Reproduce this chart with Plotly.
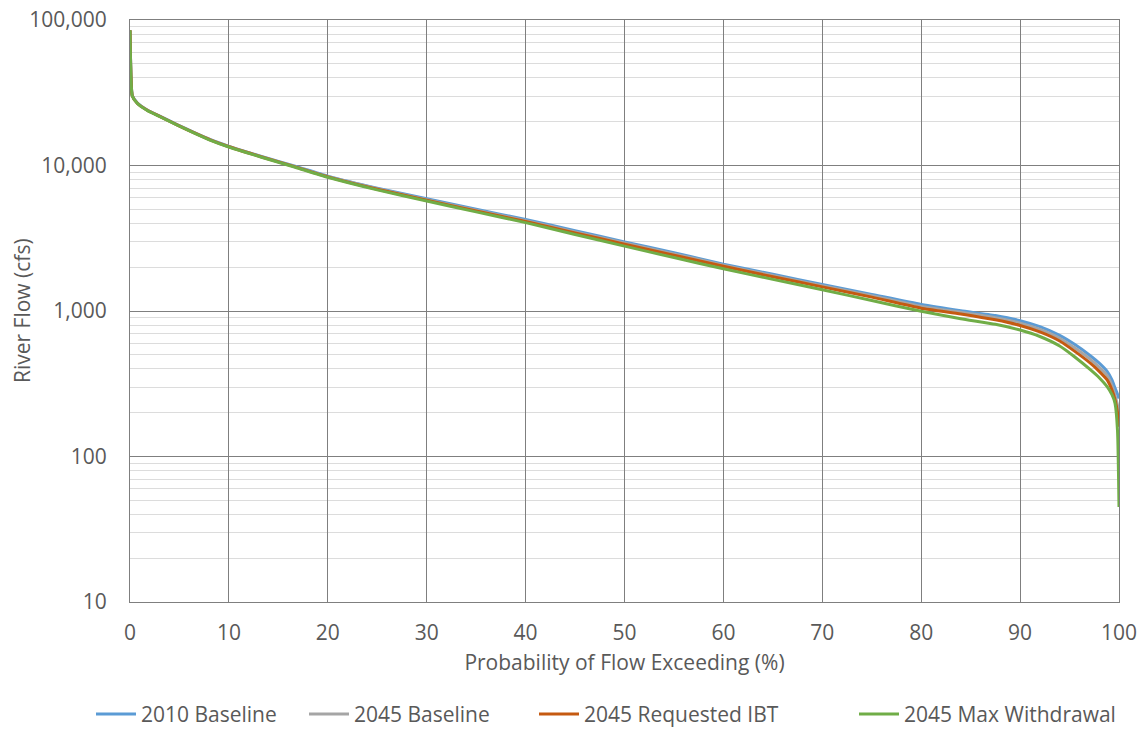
import plotly.graph_objects as go

# Exceedance probability (%)
prob = [0, 0.1, 0.23, 0.75, 1.74, 3.1, 4.8, 6.5, 8.15, 10, 13.3, 16.7, 20, 25, 30, 35, 40, 45, 50,
        55, 60, 65, 70, 75, 80, 84, 87.5, 90, 92, 94, 95.5, 97.1, 98, 98.8, 99.3, 99.6, 99.85, 100]

flow_2010_baseline = [85000, 40500, 30300, 26900, 24100, 21700, 19050, 16850, 15050, 13550,
                      11550, 9880, 8450, 6980, 5900, 5000, 4250, 3570, 2980, 2520, 2100, 1790,
                      1520, 1300, 1110, 1005, 930, 858, 780, 680, 590, 493, 438, 384, 335, 295, 268, 250]
flow_2045_baseline = [85000, 40300, 30200, 26800, 24050, 21650, 19000, 16800, 15000, 13500,
                      11500, 9830, 8400, 6920, 5830, 4930, 4180, 3500, 2930, 2470, 2065, 1755,
                      1490, 1275, 1075, 980, 900, 826, 748, 650, 558, 465, 410, 360, 305, 262, 225, 190]
flow_2045_requested_ibt = [85000, 40200, 30100, 26700, 24000, 21600, 18950, 16750, 14950, 13450,
                           11450, 9780, 8350, 6860, 5770, 4870, 4120, 3440, 2880, 2420, 2030, 1720,
                           1465, 1245, 1045, 955, 870, 795, 718, 622, 530, 438, 385, 336, 285, 245, 200, 160]
flow_2045_max_withdrawal = [85000, 40000, 30000, 26650, 23900, 21550, 18900, 16700, 14900, 13400,
                            11400, 9730, 8300, 6800, 5700, 4800, 4050, 3360, 2790, 2330, 1950, 1650,
                            1400, 1180, 995, 885, 810, 740, 668, 575, 485, 395, 348, 302, 265, 232, 150, 45]

series_names = ["2010 Baseline", "2045 Baseline", "2045 Requested IBT", "2045 Max Withdrawal"]
series_values = [flow_2010_baseline, flow_2045_baseline, flow_2045_requested_ibt, flow_2045_max_withdrawal]
series_colors = ["#5B9BD5", "#A5A5A5", "#C55A11", "#70AD47"]

x_ticks = [0, 10, 20, 30, 40, 50, 60, 70, 80, 90, 100]
y_ticks = [10, 100, 1000, 10000, 100000]
y_tick_text = ["10", "100", "1,000", "10,000", "100,000"]
y_minor = [m * 10 ** k for k in range(1, 5) for m in range(2, 10)]

FONT = "Open Sans"
TXT = "#595959"
GRID = "#7f7f7f"

W, H = 1142, 729
L, R, T, B = 130, 23, 20, 127
plot_w = W - L - R

# legend entry left positions (pixels from the left edge of the figure)
legend_left_px = [91, 304, 534, 854]

fig = go.Figure()
legend_ids = ["legend", "legend2", "legend3", "legend4"]
for name, vals, col, lid in zip(series_names, series_values, series_colors, legend_ids):
    fig.add_trace(go.Scatter(x=prob, y=vals, mode="lines", name=name, legend=lid,
                             line=dict(color=col, width=3, shape="spline", smoothing=0.5)))

layout_legends = {}
for lid, px in zip(legend_ids, legend_left_px):
    layout_legends[lid] = dict(orientation="h", x=(px - L) / plot_w, xanchor="left",
                               y=-0.158, yanchor="top", itemwidth=40,
                               font=dict(size=21, color=TXT, family=FONT),
                               bgcolor="rgba(0,0,0,0)")

fig.update_layout(
    width=W, height=H,
    margin=dict(l=L, r=R, t=T, b=B, autoexpand=False),
    paper_bgcolor="white", plot_bgcolor="white",
    font=dict(family=FONT, size=21, color=TXT),
    showlegend=True,
    **layout_legends,
)

fig.update_xaxes(
    range=[0, 100], tickvals=x_ticks, showgrid=True, gridcolor=GRID, gridwidth=1,
    showline=True, linecolor=GRID, linewidth=1, mirror=True, zeroline=False,
    ticks="outside", ticklen=12, tickcolor="rgba(0,0,0,0)", automargin=False,
    ticklabeloverflow="allow",
    tickfont=dict(size=21, color=TXT),
    title=dict(text="Probability of Flow Exceeding (%)", font=dict(size=21, color=TXT), standoff=10),
)
fig.update_yaxes(
    type="log", range=[1, 5], tickvals=y_ticks, ticktext=y_tick_text,
    showgrid=True, gridcolor=GRID, gridwidth=1,
    showline=True, linecolor=GRID, linewidth=1, mirror=True, zeroline=False,
    ticks="outside", ticklen=18, tickcolor="rgba(0,0,0,0)", automargin=False,
    ticklabeloverflow="allow",
    tickfont=dict(size=21, color=TXT),
    minor=dict(tickvals=y_minor, showgrid=True, gridcolor="#dcdcdc", gridwidth=1, ticks=""),
)

# y-axis title placed as a rotated annotation so it sits where the reference has it
fig.add_annotation(text="River Flow (cfs)", xref="paper", yref="paper",
                   x=(22 - L) / plot_w, y=0.5, xanchor="center", yanchor="middle",
                   textangle=-90, showarrow=False, font=dict(size=21, color=TXT, family=FONT))

# remove the default 8px page margin so the figure fills the window exactly
fig.write_html("out.html", config={"displayModeBar": False},
               post_script="document.body.style.margin='0px';")
